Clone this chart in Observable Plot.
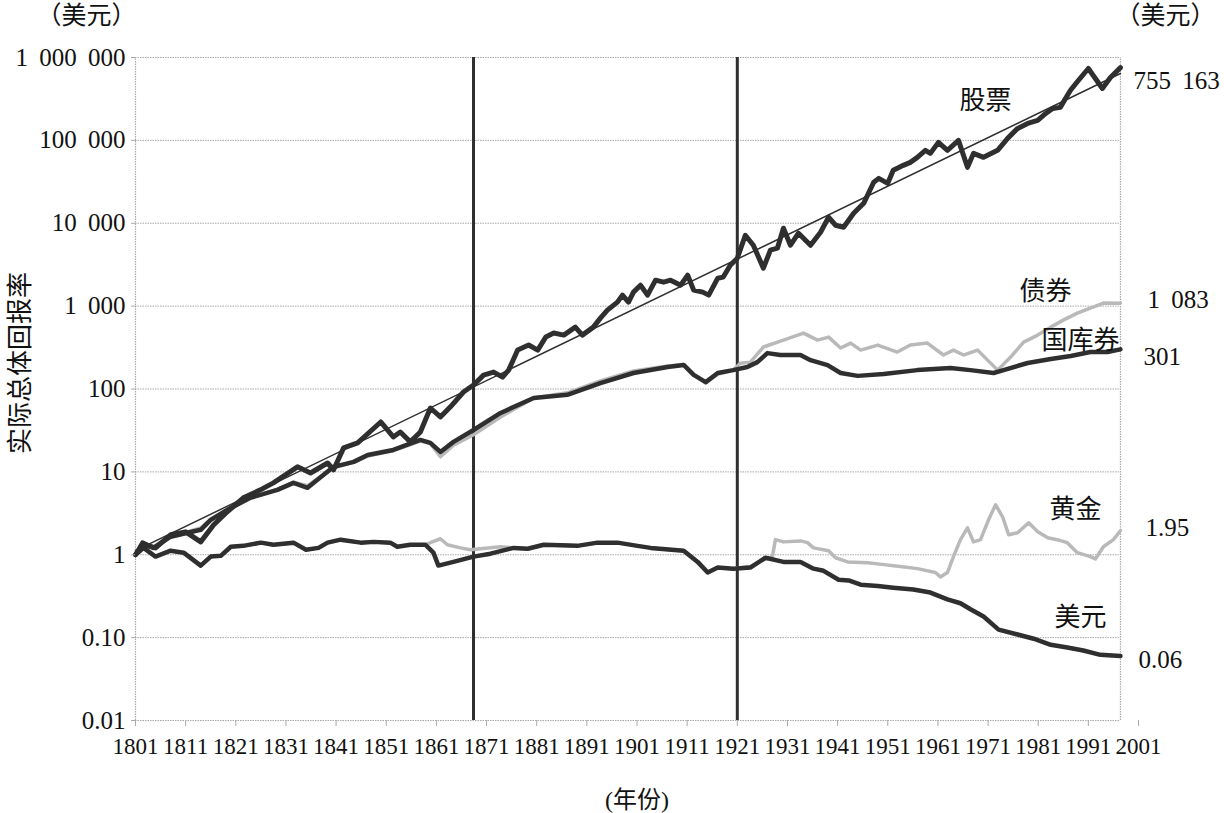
<!DOCTYPE html>
<html><head><meta charset="utf-8">
<script src="https://cdn.jsdelivr.net/npm/d3@7"></script>
<script src="https://cdn.jsdelivr.net/npm/@observablehq/plot@0.6"></script>
<style>
body{margin:0;background:#fff}
#chart{width:1224px;height:813px}
#chart svg text{font-family:"Liberation Serif","Noto Sans CJK SC",serif !important;word-spacing:5px}
</style>
</head><body><div id="chart"></div>
<script>
// ---- data (year, real total return index, $1 invested) ----
const stocks = [[1801,1],[1802.6,1.32],[1805,1.21],[1808,1.74],[1811,1.89],[1814,1.43],[1816.6,2.3],[1819.3,3.3],[1822.5,4.86],[1825.9,6.07],[1828.5,7.37],[1833.3,11.5],[1835.9,9.7],[1839.3,12.8],[1840.5,10.6],[1842.5,19.5],[1845.3,22.4],[1849.9,40],[1852.4,26.4],[1853.8,30.3],[1855.8,23],[1857.8,30.3],[1859.8,59],[1861.8,46],[1863.8,61],[1866.4,92],[1868.4,112],[1870.4,147],[1872.4,160],[1874.2,139],[1875.4,169],[1877.2,295],[1879.4,339],[1881.2,295],[1882.8,423],[1884.4,473],[1886.4,447],[1888.7,558],[1890.1,447],[1892.3,558],[1893.7,716],[1895.1,895],[1897.1,1117],[1898.1,1357],[1899.3,1117],[1900.3,1475],[1901.7,1791],[1903.1,1357],[1904.7,2057],[1906.3,1946],[1907.7,2057],[1909.7,1791],[1911.1,2362],[1912.3,1559],[1914.1,1475],[1915.3,1357],[1917.1,2174],[1918.2,2240],[1919.6,3120],[1921,3785],[1922.6,7165],[1924.2,5430],[1926.2,2870],[1927.6,4729],[1929,5000],[1930.2,8710],[1931.6,5430],[1933.2,7580],[1935.6,5430],[1937.6,7790],[1939.2,11810],[1940.6,9460],[1942.2,8950],[1944.2,13200],[1946.2,17400],[1948.2,31200],[1949.2,34800],[1951,30300],[1952.1,43500],[1954.1,50000],[1955.5,54300],[1956.9,62400],[1958.5,75800],[1959.5,69700],[1961.1,94600],[1962.9,75800],[1965.1,100000],[1966.9,47300],[1968.1,69700],[1970.1,62400],[1972.9,75800],[1974.9,105700],[1976.9,139500],[1978.9,160300],[1980.9,174000],[1982.5,211500],[1983.9,243000],[1985.4,250000],[1987.4,400000],[1989,528000],[1991,737000],[1993.8,423000],[1995.4,574000],[1997.4,755163]];
const stockTrend = [[1801,1.12],[1997.4,642000]];
const bonds = [[1801,1],[1802.4,1.35],[1804.6,1.25],[1808,1.7],[1811.4,1.9],[1814,2.1],[1816,2.7],[1819.3,3.5],[1823.9,4.9],[1829.3,6.2],[1832.5,7.5],[1835.3,6.8],[1840.5,11.2],[1844.5,13],[1847.3,15.5],[1852.4,18],[1857.8,23.5],[1859.8,22],[1861.8,15.2],[1864.4,21],[1868.4,28],[1873.8,46],[1880.4,78],[1887.1,90],[1893.7,125],[1900.3,165],[1907.1,190],[1910.3,198],[1912.3,150],[1914.7,118],[1917.1,150],[1920.2,170],[1921.6,205],[1923.6,211],[1926.2,321],[1930.2,389],[1934.2,473],[1937,389],[1939.2,423],[1941.6,312],[1943.6,358],[1945.6,295],[1949,339],[1952.9,279],[1955.5,339],[1958.9,358],[1962.1,257],[1964.1,295],[1966.1,257],[1968.9,295],[1970.9,223],[1972.9,169],[1975.5,243],[1978.1,368],[1980.9,447],[1983.5,558],[1986,678],[1988.8,824],[1991.4,946],[1994,1087],[1997.4,1083]];
const bills = [[1801,1],[1802.4,1.4],[1804.6,1.21],[1808,1.65],[1811.4,1.84],[1814,2.0],[1816,2.64],[1819.3,3.48],[1823.9,4.86],[1829.3,6.07],[1832.5,7.37],[1835.3,6.42],[1840.5,11.5],[1844.5,13.2],[1847.3,16],[1852.4,18.4],[1857.8,24.3],[1859.8,22.4],[1861.8,17.4],[1864.4,23],[1868.4,32],[1873.8,51.4],[1880.4,78],[1887.1,85],[1893.7,118],[1900.3,156],[1907.1,184],[1910.3,195],[1912.3,148],[1914.7,121],[1917.1,156],[1920.2,169],[1923,184],[1925,211],[1927,271],[1929.6,257],[1933.6,257],[1935.6,223],[1939,194],[1941.6,156],[1945,144],[1950.2,152],[1956.9,169],[1963.5,179],[1967.5,169],[1972.1,156],[1974.1,169],[1978.9,206],[1983.5,230],[1987.5,250],[1991.4,279],[1994.8,279],[1997.4,301]];
const gold = [[1801,1],[1802.6,1.21],[1805,0.95],[1808,1.12],[1810.6,1.06],[1814,0.74],[1816,0.95],[1818,0.97],[1820,1.25],[1822.5,1.28],[1826,1.4],[1828.5,1.32],[1832.5,1.4],[1835,1.15],[1837.5,1.21],[1839.3,1.4],[1841.9,1.52],[1845.9,1.4],[1848.5,1.43],[1851.8,1.4],[1853.2,1.25],[1855.8,1.32],[1858.8,1.32],[1859.8,1.4],[1861.8,1.56],[1863.2,1.32],[1865.8,1.21],[1867.8,1.15],[1873.8,1.25],[1876.4,1.21],[1879.2,1.18],[1882.4,1.32],[1889.1,1.28],[1893.1,1.4],[1897.1,1.4],[1901.1,1.28],[1903.7,1.21],[1910.3,1.12],[1913.1,0.82],[1915.1,0.61],[1917.1,0.7],[1920.2,0.68],[1923.6,0.72],[1926.2,0.87],[1928,0.95],[1928.6,1.52],[1930.2,1.43],[1933.6,1.47],[1935,1.4],[1936.2,1.21],[1939.2,1.12],[1940.6,0.92],[1943,0.82],[1947,0.8],[1950.2,0.76],[1953.5,0.72],[1956.9,0.68],[1960.5,0.61],[1961.5,0.54],[1962.9,0.61],[1964.1,0.95],[1965.5,1.52],[1966.9,2.11],[1968.1,1.43],[1969.5,1.52],[1971.1,2.64],[1972.5,4.0],[1973.9,2.87],[1975.1,1.74],[1976.9,1.84],[1979.1,2.43],[1980.9,1.89],[1982.9,1.6],[1984.8,1.52],[1986.8,1.4],[1988.8,1.06],[1991.4,0.95],[1992.4,0.89],[1994,1.25],[1996,1.52],[1997.4,1.95]];
const dollar = [[1801,1],[1802.6,1.21],[1805,0.95],[1808,1.12],[1810.6,1.06],[1814,0.74],[1816,0.95],[1818,0.97],[1820,1.25],[1822.5,1.28],[1826,1.4],[1828.5,1.32],[1832.5,1.4],[1835,1.15],[1837.5,1.21],[1839.3,1.4],[1841.9,1.52],[1845.9,1.4],[1848.5,1.43],[1851.8,1.4],[1853.2,1.25],[1855.8,1.32],[1858.8,1.32],[1860.4,1.06],[1861.4,0.74],[1864.4,0.82],[1868.4,0.95],[1871.8,1.03],[1876.4,1.21],[1879.2,1.18],[1882.4,1.32],[1889.1,1.28],[1893.1,1.4],[1897.1,1.4],[1901.1,1.28],[1903.7,1.21],[1910.3,1.12],[1913.1,0.82],[1915.1,0.61],[1917.1,0.7],[1920.2,0.68],[1923.6,0.7],[1926.6,0.92],[1930.2,0.82],[1933.6,0.82],[1936.2,0.68],[1938.2,0.64],[1941.2,0.5],[1943.2,0.49],[1945.6,0.435],[1949,0.42],[1952.1,0.4],[1956.1,0.38],[1959.5,0.35],[1962.9,0.29],[1965.5,0.26],[1967.5,0.22],[1970.1,0.18],[1973.1,0.125],[1976.9,0.109],[1980.1,0.097],[1983.5,0.082],[1986.8,0.076],[1990,0.07],[1993.4,0.062],[1997.4,0.06]];
const periodMarks = [1868.4, 1921.0];
const xTickYears = [1801,1811,1821,1831,1841,1851,1861,1871,1881,1891,1901,1911,1921,1931,1941,1951,1961,1971,1981,1991,2001];
const yTicks = [0.01,0.1,1,10,100,1000,10000,100000,1000000];
const yTickLabels = ["0.01","0.10","1","10","100","1 000","10 000","100 000","1 000 000"];
const seriesNames = ["股票","债券","国库券","黄金","美元"];
const endValueLabels = ["755 163","1 083","301","1.95","0.06"];

// ---- styling ----
const FONT = "'Liberation Serif','Noto Sans CJK SC',serif";
const DARK = "#2f2f2f", LIGHT = "#b9b9b9", GRID = "#a9a9a9";
const firstYear = stocks[0][0];
const lastYear = stocks[stocks.length - 1][0];
const XY = {x: d => d[0], y: d => d[1]};

const seriesList = [stocks, bonds, bills, gold, dollar];
const nameOffsets = [[-135, 33], [-75, -12], [-40, -9], [-45, -21], [-40, -38]];
const valueOffsets = [[13, 13], [27, -3], [23, 8], [25, -3], [18, 4]];

const labelMarks = [];
seriesList.forEach((s, i) => {
  const end = [s[s.length - 1]];
  labelMarks.push(Plot.text(end, {...XY, text: () => seriesNames[i], dx: nameOffsets[i][0], dy: nameOffsets[i][1], fontSize: 26, fill: "#111", fontFamily: FONT}));
  labelMarks.push(Plot.text(end, {...XY, text: () => endValueLabels[i], dx: valueOffsets[i][0], dy: valueOffsets[i][1], textAnchor: "start", fontSize: 25, fill: "#111", fontFamily: FONT}));
});

const chart = Plot.plot({
  width: 1224, height: 813,
  marginTop: 57, marginBottom: 93, marginLeft: 135, marginRight: 86,
  style: {fontFamily: FONT, background: "#fff", color: "#111", overflow: "visible"},
  x: {domain: [1801, 2001]},
  y: {type: "log", domain: [0.01, 1e6]},
  marks: [
    Plot.ruleY(yTicks, {x1: firstYear, x2: lastYear, stroke: GRID, strokeWidth: 1, strokeDasharray: "1.5,1"}),
    Plot.ruleX([firstYear, lastYear], {y1: 0.01, y2: 1e6, stroke: GRID, strokeWidth: 1.2, strokeDasharray: "1.5,1"}),
    Plot.ruleX(periodMarks, {y1: 0.01, y2: 1e6, stroke: DARK, strokeWidth: 3}),
    Plot.line(bonds, {...XY, stroke: LIGHT, strokeWidth: 3.5, strokeLinejoin: "round"}),
    Plot.line(gold, {...XY, stroke: LIGHT, strokeWidth: 3.5, strokeLinejoin: "round"}),
    Plot.line(bills, {...XY, stroke: DARK, strokeWidth: 4.5, strokeLinejoin: "round"}),
    Plot.line(dollar, {...XY, stroke: DARK, strokeWidth: 4.5, strokeLinejoin: "round"}),
    Plot.line(stocks, {...XY, stroke: DARK, strokeWidth: 5, strokeLinejoin: "round"}),
    Plot.line(stockTrend, {...XY, stroke: DARK, strokeWidth: 1.5}),
    Plot.axisY({ticks: yTicks, tickFormat: d => yTickLabels[yTicks.indexOf(d)], tickSize: 4, tickPadding: 6, fontSize: 25, stroke: GRID, fill: "#111", label: null}),
    Plot.axisX({ticks: xTickYears, tickFormat: d => String(d), tickSize: 6, tickPadding: 11, fontSize: 23, stroke: GRID, fill: "#111", label: null}),
    ...labelMarks,
    Plot.text(["（美元）"], {frameAnchor: "top-left", textAnchor: "middle", lineAnchor: "middle", dx: -49, dy: -42, fontSize: 25, fill: "#111"}),
    Plot.text(["（美元）"], {frameAnchor: "top-right", textAnchor: "middle", lineAnchor: "middle", dx: 27, dy: -42, fontSize: 25, fill: "#111"}),
    Plot.text(["实际总体回报率"], {frameAnchor: "left", textAnchor: "middle", lineAnchor: "middle", dx: -115, dy: -26, rotate: -90, fontSize: 26, fill: "#111"}),
    Plot.text(["(年份)"], {frameAnchor: "bottom", textAnchor: "middle", lineAnchor: "middle", dy: 80, fontSize: 24, fill: "#111"})
  ]
});
document.getElementById("chart").append(chart);
</script></body></html>
